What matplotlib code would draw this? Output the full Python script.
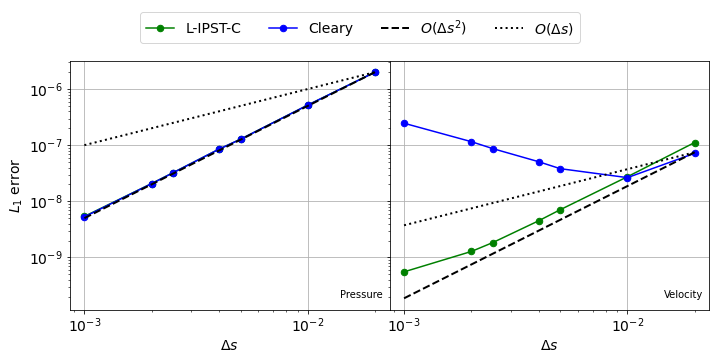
import numpy as np
import matplotlib.pyplot as plt

# 格子幅
ds = np.array([0.001, 0.002, 0.0025, 0.004, 0.005, 0.01, 0.02])

# 圧力の L1 誤差
p_lipstc = [5.4e-9, 2.08e-8, 3.26e-8, 8.5e-8, 1.28e-7, 5.2e-7, 2.01e-6]
p_cleary = [5.3e-9, 2.07e-8, 3.25e-8, 8.5e-8, 1.28e-7, 5.2e-7, 2.01e-6]

# 速度の L1 誤差
v_lipstc = [5.55e-10, 1.28e-9, 1.85e-9, 4.5e-9, 7.1e-9, 2.75e-8, 1.12e-7]
v_cleary = [2.47e-7, 1.16e-7, 8.7e-8, 5.1e-8, 3.83e-8, 2.65e-8, 7.2e-8]

# 参照勾配の基準値 (最大の ds での値)
p_ref = 2.01e-6
v_ref = 7.5e-8

plt.rcParams['font.size'] = 14

fig, axes = plt.subplots(1, 2, figsize=(10, 5), dpi=72, sharey=True)
fig.subplots_adjust(left=0.097, right=0.985, top=0.831, bottom=0.14, wspace=0)

panels = [(p_lipstc, p_cleary, p_ref, 'Pressure'),
          (v_lipstc, v_cleary, v_ref, 'Velocity')]

for ax, (e1, e2, ref, name) in zip(axes, panels):
    ax.loglog(ds, e1, 'o-', color='green', markersize=6.5, label='L-IPST-C')
    ax.loglog(ds, e2, 'o-', color='blue', markersize=6.5, label='Cleary')
    ax.loglog(ds, ref * (ds / ds[-1]) ** 2, 'k--', linewidth=2, label=r'$O(\Delta s^2)$')
    ax.loglog(ds, ref * (ds / ds[-1]), 'k:', linewidth=2, label=r'$O(\Delta s)$')
    ax.text(0.98, 0.04, name, transform=ax.transAxes, ha='right', va='bottom', fontsize=10)
    ax.set_xlabel(r'$\Delta s$')
    ax.grid(True)

axes[0].set_ylabel(r'$L_1$ error')

handles, labels = axes[0].get_legend_handles_labels()
fig.legend(handles, labels, loc='upper center', ncol=4, bbox_to_anchor=(0.5, 0.985), fontsize=14)

plt.savefig('out.png')
